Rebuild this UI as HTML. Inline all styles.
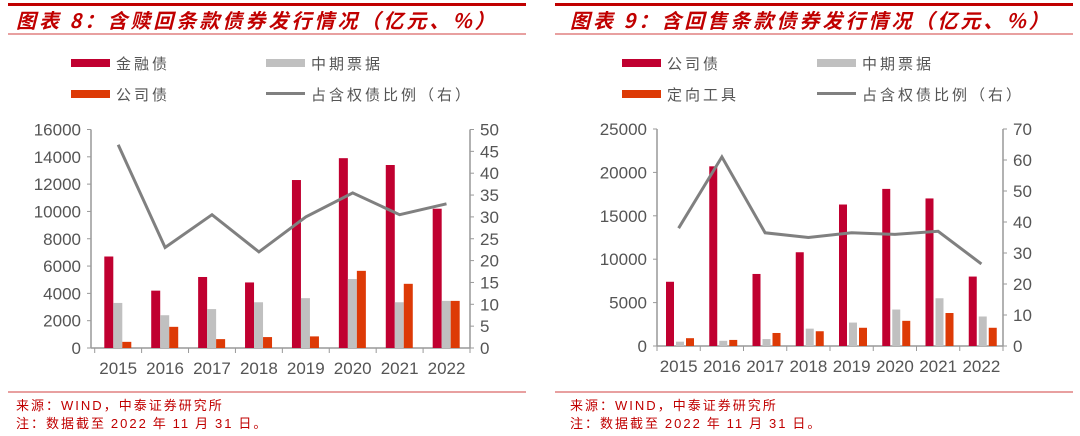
<!DOCTYPE html>
<html><head><meta charset="utf-8"><style>
html,body{margin:0;padding:0;background:#fff;}
svg{display:block;font-family:"Liberation Sans","Noto Sans CJK SC",sans-serif;}
.cj{font-family:"Noto Sans CJK SC",sans-serif;}
</style></head><body>
<svg width="1080" height="436" viewBox="0 0 1080 436" xmlns="http://www.w3.org/2000/svg">
<!-- LEFT -->
<rect x="8" y="3" width="518" height="3" fill="#C00000"/>
<line x1="8" y1="34" x2="526" y2="34" stroke="#D04040" stroke-width="1"/>
<text x="16" y="28" font-size="20" font-style="italic" font-weight="bold" fill="#C00000" class="cj" letter-spacing="3">图表 8：含赎回条款债券发行情况（亿元、%）</text>
<rect x="71" y="59" width="39" height="8" fill="#C00030"/>
<text x="116" y="69" font-size="15" fill="#555" class="cj" letter-spacing="3">金融债</text>
<rect x="266" y="59" width="39" height="8" fill="#C0C0C0"/>
<text x="311" y="69" font-size="15" fill="#555" class="cj" letter-spacing="3">中期票据</text>
<rect x="71" y="90" width="39" height="8" fill="#DD3A06"/>
<text x="116" y="100" font-size="15" fill="#555" class="cj" letter-spacing="3">公司债</text>
<rect x="266" y="92" width="39" height="3" fill="#808080"/>
<text x="311" y="100" font-size="15" fill="#555" class="cj" letter-spacing="3">占含权债比例（右）</text>
<g id="L"></g>
<line x1="8" y1="392" x2="526" y2="392" stroke="#D04040" stroke-width="1"/>
<text x="16" y="410" font-size="13" fill="#C00000" class="cj" letter-spacing="2">来源：<tspan font-family="Liberation Sans">WIND</tspan>，中泰证券研究所</text>
<text x="16" y="428" font-size="13" fill="#C00000" class="cj" letter-spacing="2">注：数据截至 <tspan font-family="Liberation Sans">2022</tspan> 年 <tspan font-family="Liberation Sans">11</tspan> 月 <tspan font-family="Liberation Sans">31</tspan> 日。</text>
<!-- RIGHT -->
<rect x="555" y="3" width="518" height="3" fill="#C00000"/>
<line x1="555" y1="34" x2="1073" y2="34" stroke="#D04040" stroke-width="1"/>
<text x="570" y="28" font-size="20" font-style="italic" font-weight="bold" fill="#C00000" class="cj" letter-spacing="3">图表 9：含回售条款债券发行情况（亿元、%）</text>
<rect x="622" y="59" width="39" height="8" fill="#C00030"/>
<text x="667" y="69" font-size="15" fill="#555" class="cj" letter-spacing="3">公司债</text>
<rect x="817" y="59" width="39" height="8" fill="#C0C0C0"/>
<text x="862" y="69" font-size="15" fill="#555" class="cj" letter-spacing="3">中期票据</text>
<rect x="622" y="90" width="39" height="8" fill="#DD3A06"/>
<text x="667" y="100" font-size="15" fill="#555" class="cj" letter-spacing="3">定向工具</text>
<rect x="817" y="92" width="39" height="3" fill="#808080"/>
<text x="862" y="100" font-size="15" fill="#555" class="cj" letter-spacing="3">占含权债比例（右）</text>
<g id="R"></g>
<line x1="555" y1="392" x2="1073" y2="392" stroke="#D04040" stroke-width="1"/>
<text x="570" y="410" font-size="13" fill="#C00000" class="cj" letter-spacing="2">来源：<tspan font-family="Liberation Sans">WIND</tspan>，中泰证券研究所</text>
<text x="570" y="428" font-size="13" fill="#C00000" class="cj" letter-spacing="2">注：数据截至 <tspan font-family="Liberation Sans">2022</tspan> 年 <tspan font-family="Liberation Sans">11</tspan> 月 <tspan font-family="Liberation Sans">31</tspan> 日。</text>
</svg>
<script>
function chart(id,c){
 var g=document.getElementById(id),s='';
 var x0=c.x0,x1=c.x1,top=c.top,bot=c.bot,H=bot-top,gw=(x1-x0)/8;
 s+='<line x1="'+c.ax+'" y1="'+top+'" x2="'+c.ax+'" y2="'+bot+'" stroke="#999" stroke-width="1.5"/>';
 s+='<line x1="'+x1+'" y1="'+top+'" x2="'+x1+'" y2="'+bot+'" stroke="#999" stroke-width="1.5"/>';
 s+='<line x1="'+c.ax+'" y1="'+bot+'" x2="'+x1+'" y2="'+bot+'" stroke="#999" stroke-width="1.5"/>';
 for(var i=0;i<c.lt.length;i++){var y=bot-H*c.lt[i]/c.lmax;
  s+='<line x1="'+(c.ax-4)+'" y1="'+y+'" x2="'+c.ax+'" y2="'+y+'" stroke="#999"/>';
  s+='<text x="'+(c.ax-10)+'" y="'+(y+6)+'" font-size="17" fill="#555" text-anchor="end">'+c.lt[i]+'</text>';}
 for(var i=0;i<c.rt.length;i++){var y=bot-H*c.rt[i]/c.rmax;
  s+='<line x1="'+x1+'" y1="'+y+'" x2="'+(x1+4)+'" y2="'+y+'" stroke="#999"/>';
  s+='<text x="'+(x1+10)+'" y="'+(y+6)+'" font-size="17" fill="#555">'+c.rt[i]+'</text>';}
 var yrs=['2015','2016','2017','2018','2019','2020','2021','2022'],cols=['#C00030','#C0C0C0','#DD3A06'];
 for(var k=0;k<=8;k++){var x=x0+gw*k;s+='<line x1="'+x+'" y1="'+bot+'" x2="'+x+'" y2="'+(bot+5)+'" stroke="#999"/>';}
 var pts=[];
 for(var k=0;k<8;k++){var gx=x0+gw*k;
  for(var j=0;j<3;j++){var v=c.d[j][k],h=H*v/c.lmax;
   s+='<rect x="'+(gx+c.off+j*(c.bw+c.gap))+'" y="'+(bot-h)+'" width="'+c.bw+'" height="'+h+'" fill="'+cols[j]+'"/>';}
  s+='<text x="'+(gx+gw/2)+'" y="'+(bot+26)+'" font-size="17" fill="#555" text-anchor="middle">'+yrs[k]+'</text>';
  pts.push((gx+gw/2).toFixed(1)+','+(bot-H*c.r[k]/c.rmax).toFixed(1));}
 s+='<polyline points="'+pts.join(' ')+'" fill="none" stroke="#808080" stroke-width="3"/>';
 g.innerHTML=s;
}
chart('L',{x0:94.7,x1:470,ax:91,top:129.5,bot:348,lmax:16000,rmax:50,
 lt:[0,2000,4000,6000,8000,10000,12000,14000,16000],rt:[0,5,10,15,20,25,30,35,40,45,50],
 off:9.6,bw:9,gap:0,
 d:[[6700,4200,5200,4800,12300,13900,13400,10200],[3300,2400,2850,3350,3650,5050,3350,3450],[450,1550,650,800,850,5650,4700,3450]],
 r:[46.5,23,30.5,22,30,35.5,30.5,33]});
chart('R',{x0:657,x1:1003,ax:657,top:129,bot:346,lmax:25000,rmax:70,
 lt:[0,5000,10000,15000,20000,25000],rt:[0,10,20,30,40,50,60,70],
 off:9,bw:8,gap:2,
 d:[[7400,20700,8300,10800,16300,18100,17000,8000],[500,600,800,2000,2700,4200,5500,3400],[900,700,1500,1700,2100,2900,3800,2100]],
 r:[38,61,36.5,35,36.5,36,37,26.5]});
</script>
</body></html>
